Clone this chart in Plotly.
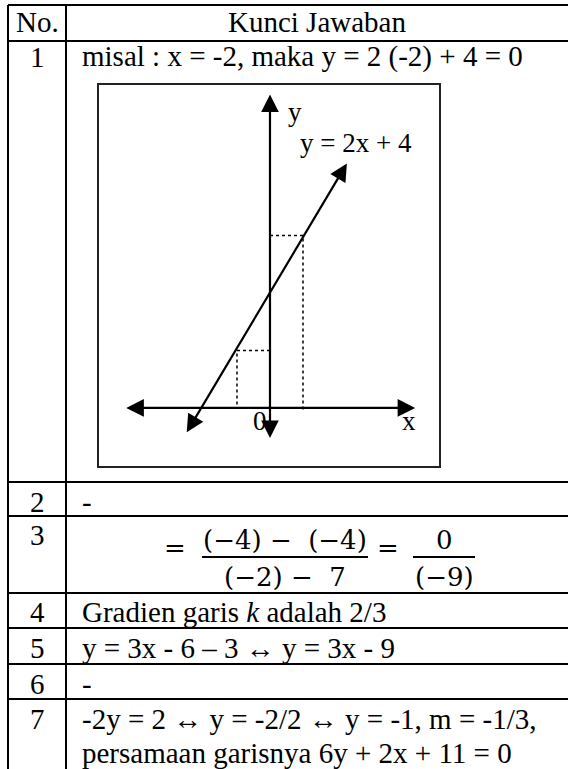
import plotly.graph_objects as go

W, H = 568, 769

# table content
header = ["No.", "Kunci Jawaban"]
row_numbers = ["1", "2", "3", "4", "5", "6", "7"]
row_texts = [
    ["misal : x = -2, maka y = 2 (-2) + 4 = 0"],
    ["-"],
    [],
    ["Gradien garis <i>k</i> adalah 2/3"],
    ["y = 3x - 6 \u2013 3 \u2194 y = 3x - 9"],
    ["-"],
    ["-2y = 2 \u2194 y = -2/2 \u2194 y = -1, m = -1/3,",
     "persamaan garisnya 6y + 2x + 11 = 0"],
]
fraction_1 = ["(\u22124) \u2212  (\u22124)", "(\u22122) \u2212  7"]
fraction_2 = ["0", "(\u22129)"]

# diagram: y = 2x + 4
line_x = [-2.55, 2.33]
line_y = [-0.9, 8.5]
axis_x = [-4.4, 4.4]
axis_y = [-1.1, 10.9]
guide_x = [-1, 1]
guide_y = [2, 6]

# layout in pixels
col_x = [8, 66]
row_y = [5, 41, 482, 516, 593, 628, 664, 699]
text_y = [22, 57, 502, 535, 612, 648, 684, [719, 753]]
box = [99, 85, 439, 466]


def px(x):
    return x / W


def py(y):
    return 1 - y / H


FONT = "Liberation Serif, Times New Roman, serif"
MATH = "DejaVu Serif, serif"
fs = 29

fig = go.Figure()

# dotted guides
for gx, gy in zip(guide_x, guide_y):
    fig.add_trace(go.Scatter(x=[0, gx, gx], y=[gy, gy, -0.15 if gx > 0 else 0],
                             mode="lines", line=dict(color="black", width=1.5, dash="dot"),
                             xaxis="x2", yaxis="y2", hoverinfo="skip"))

shapes = []
for y in row_y:
    shapes.append(dict(type="line", xref="paper", yref="paper", x0=px(col_x[0]), x1=1,
                       y0=py(y), y1=py(y), line=dict(color="black", width=2)))
for x in col_x:
    shapes.append(dict(type="line", xref="paper", yref="paper", x0=px(x), x1=px(x),
                       y0=py(row_y[0]), y1=0, line=dict(color="black", width=2)))

annotations = []


def text(x, y, s, anchor="center", size=fs, font=FONT):
    annotations.append(dict(xref="paper", yref="paper", x=px(x), y=py(y), text=s,
                            showarrow=False, xanchor=anchor, yanchor="middle",
                            font=dict(family=font, size=size, color="black")))


mid1 = (col_x[0] + col_x[1]) / 2
text(mid1, text_y[0], header[0])
text((col_x[1] + W) / 2, text_y[0], header[1])
for i, n in enumerate(row_numbers):
    ys = text_y[i + 1]
    text(mid1, ys[0] if isinstance(ys, list) else ys, n)
for i, lines in enumerate(row_texts):
    ys = text_y[i + 1]
    ys = ys if isinstance(ys, list) else [ys]
    for s, y in zip(lines, ys):
        text(80, y, s, anchor="left")

# row 3 fractions
text(175, 548, "=", size=26, font=MATH)
text(285, 540, fraction_1[0], size=26, font=MATH)
text(285, 577, fraction_1[1], size=26, font=MATH)
text(388, 548, "=", size=26, font=MATH)
text(444, 540, fraction_2[0], size=26, font=MATH)
text(444, 577, fraction_2[1], size=26, font=MATH)
for x0, x1 in [(202, 368), (413, 475)]:
    shapes.append(dict(type="line", xref="paper", yref="paper", x0=px(x0), x1=px(x1),
                       y0=py(557), y1=py(557), line=dict(color="black", width=2)))

# arrows in diagram
arrow = dict(xref="x2", yref="y2", axref="x2", ayref="y2", showarrow=True, text="",
             arrowhead=2, startarrowhead=2, arrowsize=1.6, startarrowsize=1.6,
             arrowwidth=2.2, arrowcolor="black", arrowside="end+start", standoff=0,
             startstandoff=0)
annotations.append(dict(arrow, x=axis_x[1], y=0, ax=axis_x[0], ay=0))
annotations.append(dict(arrow, x=0, y=axis_y[1], ax=0, ay=axis_y[0]))
annotations.append(dict(arrow, x=line_x[1], y=line_y[1], ax=line_x[0], ay=line_y[0]))

for x, y, s in [(0.75, 10.3, "y"), (2.6, 9.2, "y = 2x + 4"), (-0.3, -0.45, "0"), (4.2, -0.45, "x")]:
    annotations.append(dict(xref="x2", yref="y2", x=x, y=y, text=s, showarrow=False,
                            font=dict(family=FONT, size=27, color="black")))

fig.update_layout(
    width=W, height=H, margin=dict(l=0, r=0, t=0, b=0),
    paper_bgcolor="white", plot_bgcolor="white", showlegend=False,
    shapes=shapes, annotations=annotations,
    xaxis2=dict(domain=[px(box[0]), px(box[2])], range=[-5.18, 5.12], anchor="y2",
                showgrid=False, zeroline=False, showticklabels=False, ticks="",
                showline=True, mirror=True, linecolor="#222", linewidth=2),
    yaxis2=dict(domain=[py(box[3]), py(box[1])], range=[-2.02, 11.23], anchor="x2",
                showgrid=False, zeroline=False, showticklabels=False, ticks="",
                showline=True, mirror=True, linecolor="#222", linewidth=2),
    xaxis=dict(visible=False), yaxis=dict(visible=False),
)

# page body has a default 8px margin; drop it so the figure sits at the window corner
fig.write_html("out.html", config={"displayModeBar": False},
               post_script="document.body.style.margin='0px';")
